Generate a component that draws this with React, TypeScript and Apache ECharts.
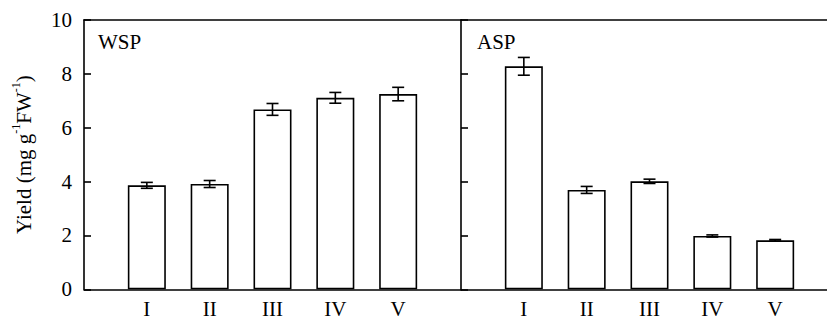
import React, { useEffect, useRef } from "react";
import * as echarts from "echarts";

const categories = ["I", "II", "III", "IV", "V"];
const wspValues = [3.86, 3.91, 6.68, 7.11, 7.25];
const wspErrors = [0.11, 0.13, 0.22, 0.2, 0.25];
const aspValues = [8.28, 3.69, 4.01, 1.98, 1.82];
const aspErrors = [0.33, 0.13, 0.08, 0.04, 0.03];
const panelNames = ["WSP", "ASP"];
const yMin = 0;
const yMax = 10;
const yInterval = 2;

const FONT = "Liberation Serif";
const FS = 21;
const LW = 1.6;

export default function App() {
  const ref = useRef<HTMLDivElement>(null);
  useEffect(() => {
    if (!ref.current) return;
    const chart = echarts.init(ref.current, undefined, { renderer: "svg" });

    const barData = (vals: number[]) => vals.map((v, i) => [i + 1, v]);
    const errData = (vals: number[], errs: number[]) => vals.map((v, i) => [i + 1, v, errs[i]]);

    const renderErr = (params: any, api: any) => {
      const x = api.value(0);
      const v = api.value(1);
      const e = api.value(2);
      const hi = api.coord([x, v + e]);
      const lo = api.coord([x, v - e]);
      const hw = 6;
      const st = { stroke: "#000", lineWidth: LW };
      return {
        type: "group",
        children: [
          { type: "line", shape: { x1: hi[0], y1: hi[1], x2: lo[0], y2: lo[1] }, style: st },
          { type: "line", shape: { x1: hi[0] - hw, y1: hi[1], x2: hi[0] + hw, y2: hi[1] }, style: st },
          { type: "line", shape: { x1: lo[0] - hw, y1: lo[1], x2: lo[0] + hw, y2: lo[1] }, style: st },
        ],
      };
    };

    const xAxisCommon = (gridIndex: number) => ({
      type: "value",
      gridIndex,
      min: 0,
      max: 6,
      interval: 1,
      axisLine: { show: true, onZero: false, lineStyle: { color: "#000", width: LW } },
      axisTick: { show: false },
      splitLine: { show: false },
      axisLabel: {
        color: "#000",
        fontFamily: FONT,
        fontSize: FS,
        lineHeight: 21,
        margin: 9,
        formatter: (v: number) => (v >= 1 && v <= 5 ? categories[v - 1] : ""),
      },
    });

    const topAxis = (gridIndex: number) => ({
      type: "value",
      gridIndex,
      position: "top",
      min: 0,
      max: 6,
      axisLine: { show: true, onZero: false, lineStyle: { color: "#000", width: LW } },
      axisTick: { show: false },
      axisLabel: { show: false },
      splitLine: { show: false },
    });

    const yAxisCommon = (gridIndex: number, showLabels: boolean) => ({
      type: "value",
      gridIndex,
      min: yMin,
      max: yMax,
      interval: yInterval,
      axisLine: { show: true, lineStyle: { color: "#000", width: LW } },
      axisTick: { show: true, inside: true, length: 7, lineStyle: { color: "#000", width: LW } },
      splitLine: { show: false },
      axisLabel: {
        show: showLabels,
        color: "#000",
        fontFamily: FONT,
        fontSize: FS,
        margin: 12,
      },
    });

    chart.setOption({
      animation: false,
      backgroundColor: "#fff",
      grid: [
        { left: 84, top: 20, width: 377, bottom: 30.7, outerBoundsMode: "none", containLabel: false, show: false },
        { left: 461, top: 20, width: 377, bottom: 30.7, outerBoundsMode: "none", containLabel: false, show: false },
      ],
      xAxis: [xAxisCommon(0), xAxisCommon(1), topAxis(0), topAxis(1)],
      yAxis: [
        {
          ...yAxisCommon(0, true),
          name: "{a|Yield (mg g}{s|-1}{a|FW}{s|-1}{a|)}",
          nameLocation: "middle",
          nameGap: 50,
          nameTextStyle: {
            color: "#000",
            fontFamily: FONT,
            fontSize: FS,
            rich: {
              a: { fontFamily: FONT, fontSize: FS, color: "#000", lineHeight: 24, verticalAlign: "bottom" },
              s: { fontFamily: FONT, fontSize: 12, color: "#000", lineHeight: 24, verticalAlign: "top" },
            },
          },
        },
        yAxisCommon(1, false),
      ],
      series: [
        {
          type: "bar",
          xAxisIndex: 0,
          yAxisIndex: 0,
          data: barData(wspValues),
          barWidth: 38,
          itemStyle: { color: "#fff", borderColor: "#000", borderWidth: LW },
        },
        {
          type: "bar",
          xAxisIndex: 1,
          yAxisIndex: 1,
          data: barData(aspValues),
          barWidth: 38,
          itemStyle: { color: "#fff", borderColor: "#000", borderWidth: LW },
        },
        {
          type: "custom",
          xAxisIndex: 0,
          yAxisIndex: 0,
          data: errData(wspValues, wspErrors),
          encode: { x: 0, y: 1 },
          renderItem: renderErr,
          z: 5,
        },
        {
          type: "custom",
          xAxisIndex: 1,
          yAxisIndex: 1,
          data: errData(aspValues, aspErrors),
          encode: { x: 0, y: 1 },
          renderItem: renderErr,
          z: 5,
        },
      ],
      graphic: [
        { type: "text", left: 98, top: 31, style: { text: panelNames[0], fontFamily: FONT, fontSize: FS, fill: "#000" } },
        { type: "text", left: 477, top: 31, style: { text: panelNames[1], fontFamily: FONT, fontSize: FS, fill: "#000" } },
      ],
    });
    return () => chart.dispose();
  }, []);
  return (
    <div style={{ position: "fixed", left: 0, top: 0, width: 827, height: 320, overflow: "hidden" }}>
      <div ref={ref} style={{ width: 827, height: 320 }} />
    </div>
  );
}
